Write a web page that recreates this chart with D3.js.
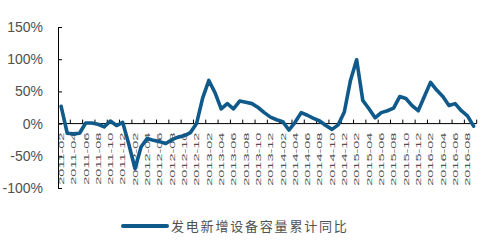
<!DOCTYPE html>
<html>
<head>
<meta charset="utf-8">
<script src="https://cdn.jsdelivr.net/npm/d3@7"></script>
<style>
  body { margin: 0; background: #fff; }
  svg { display: block; }
</style>
</head>
<body>
<div id="chart"></div>
<script>
// cumulative YoY growth of new power generation capacity, monthly 2011-02 .. 2016-09
var months = d3.timeMonth.range(new Date(2011, 1, 1), new Date(2016, 9, 1))
    .map(d3.timeFormat("%Y-%m"));

var growth = [
    27, -15, -16, -15, 1, 1, -1, -5, 4, -3, 2, -32,
    -70, -36, -23, -26, -28, -31, -25, -21, -19, -14, 0, 40,
    67, 48, 23, 31, 23, 35, 33, 31, 25, 17, 10, 6,
    3, -10, 2, 17, 13, 8, 4, -3, -9, -2, 18, 67,
    99, 36, 23, 9, 17, 20, 24, 42, 39, 28, 20, 42,
    64, 52, 42, 28, 31, 20, 12, -4
];

var yTicks = [-100, -50, 0, 50, 100, 150];
var seriesName = "发电新增设备容量累计同比";

var svgWidth = 482;
var svgHeight = 240;
var margin = { top: 27, right: 5, bottom: 52, left: 58 };
var width = 418.7;
var height = svgHeight - margin.top - margin.bottom;

var svg = d3.select("#chart")
    .append("svg")
    .attr("width", svgWidth)
    .attr("height", svgHeight);

var chartGroup = svg.append("g")
    .attr("transform", `translate(${margin.left}, ${margin.top})`);

var xScale = d3.scaleBand()
    .domain(months)
    .range([0, width]);

var yScale = d3.scaleLinear()
    .domain([-100, 150])
    .range([height, 0]);

// y axis, ticks inside
var leftAxis = d3.axisLeft(yScale)
    .tickValues(yTicks)
    .tickSizeInner(-4)
    .tickSizeOuter(0)
    .tickPadding(15)
    .tickFormat(d => d + "%");

var yAxisG = chartGroup.append("g").call(leftAxis);
yAxisG.select(".domain").attr("stroke", "#000");
yAxisG.selectAll(".tick line").attr("stroke", "#000");
yAxisG.selectAll("text")
    .attr("font-family", "Liberation Sans, Arial, sans-serif")
    .attr("font-size", 14)
    .attr("fill", "#505050");

// x axis at 0%, ticks every two months on category boundaries
var y0 = yScale(0);
var xAxisG = chartGroup.append("g")
    .attr("transform", `translate(0, ${y0})`);

xAxisG.append("line")
    .attr("x1", 0)
    .attr("x2", width)
    .attr("stroke", "#000");

var tickMonths = months.filter((m, i) => i % 2 === 0);

xAxisG.selectAll(".xtick")
    .data(tickMonths.slice(1).concat(["end"]))
    .enter()
    .append("line")
    .attr("class", "xtick")
    .attr("x1", d => d === "end" ? width : xScale(d))
    .attr("x2", d => d === "end" ? width : xScale(d))
    .attr("y1", 0)
    .attr("y2", -4)
    .attr("stroke", "#000");

xAxisG.selectAll(".xlabel")
    .data(tickMonths)
    .enter()
    .append("text")
    .attr("class", "xlabel")
    .attr("transform", d => `translate(${xScale(d) + xScale.bandwidth() / 2}, 9) rotate(-90) scale(1, 0.55)`)
    .attr("dy", "0.35em")
    .attr("text-anchor", "end")
    .attr("font-family", "Liberation Sans, Arial, sans-serif")
    .attr("font-size", 14.5)
    .attr("fill", "#505050")
    .text(d => d);

// the line
var line = d3.line()
    .x((d, i) => xScale(months[i]) + xScale.bandwidth() / 2)
    .y(d => yScale(d));

chartGroup.append("path")
    .datum(growth)
    .attr("d", line)
    .attr("fill", "none")
    .attr("stroke", "#0f5a8a")
    .attr("stroke-width", 3.6)
    .attr("stroke-linejoin", "round")
    .attr("stroke-linecap", "round");

// legend
var legend = svg.append("g")
    .attr("transform", "translate(123, 226)");

legend.append("line")
    .attr("x1", 0)
    .attr("x2", 44)
    .attr("stroke", "#0f5a8a")
    .attr("stroke-width", 4)
    .attr("stroke-linecap", "round");

legend.append("text")
    .attr("x", 48)
    .attr("dy", "0.38em")
    .attr("font-family", "Noto Sans CJK SC, sans-serif")
    .attr("font-size", 13)
    .attr("letter-spacing", 1.8)
    .attr("fill", "#505050")
    .text(seriesName);
</script>
</body>
</html>
